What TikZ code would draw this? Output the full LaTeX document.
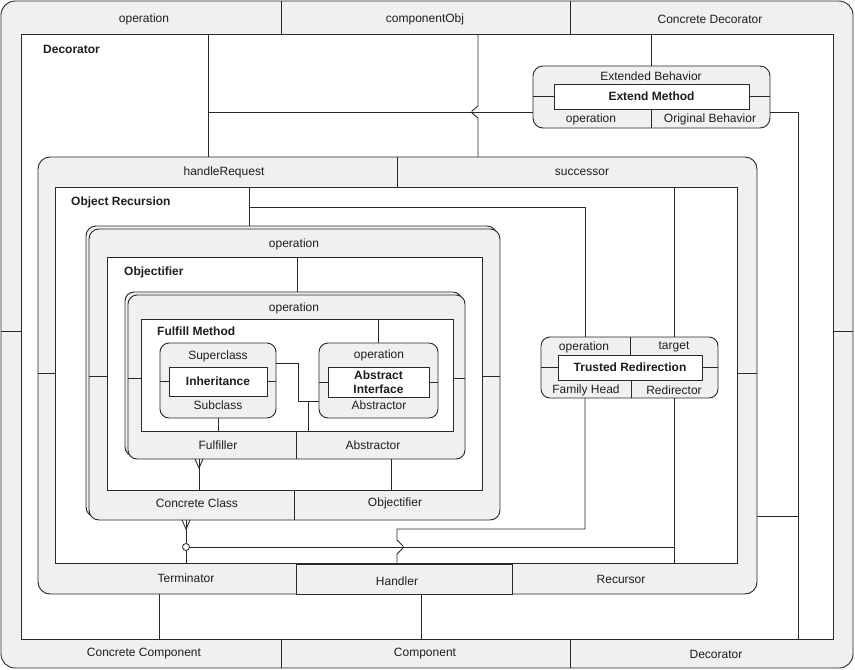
\documentclass[tikz,border=0pt]{standalone}
\usepackage{fontspec}
\setmainfont{Liberation Sans}
\usepackage{tikz}
\usetikzlibrary{positioning, fit, calc}

\definecolor{bandgray}{RGB}{240,240,241}
\definecolor{edgegray}{RGB}{40,40,40}
\definecolor{inkgray}{RGB}{30,30,30}

\begin{document}
\begin{tikzpicture}[x=1pt, y=-1pt,
    panel/.style={draw=edgegray, fill=bandgray, line width=0.9pt, rounded corners=#1, inner sep=0pt, outer sep=0pt},
    panel/.default=10pt,
    well/.style={draw=edgegray, fill=white, line width=0.9pt, inner sep=0pt, outer sep=0pt},
    wire/.style={draw=edgegray, line width=0.9pt},
    lbl/.style={font=\fontsize{12}{15}\selectfont, text=inkgray, inner sep=0pt},
    ttl/.style={font=\fontsize{12}{15}\selectfont\bfseries, text=inkgray, inner sep=0pt, anchor=west},
    core/.style={font=\fontsize{12}{15}\selectfont\bfseries, text=inkgray, inner sep=0pt, align=center},
    ring/.style={circle, draw=edgegray, fill=white, line width=0.8pt, minimum size=7pt, inner sep=0pt}]
  \useasboundingbox (0,0) rectangle (855,670);

  % Decorator frame
  \node[panel=14pt, fit={(1,1) (853,668)}] (dec) {};
  \node[well, fit={(21,34) (833,639)}] (decw) {};
  \foreach \x in {281,570} {
    \draw[wire] (dec.north -| \x,0) -- (decw.north -| \x,0);
    \draw[wire] (decw.south -| \x,0) -- (dec.south -| \x,0);
  }
  \draw[wire] (dec.west |- 0,331) -- (decw.west |- 0,331);
  \draw[wire] (decw.east |- 0,331) -- (dec.east |- 0,331);
  \node[lbl] (decOp) at (144,19) {operation};
  \node[lbl] (decObj) at (425,19) {componentObj};
  \node[lbl] (decConc) at (710,19) {Concrete Decorator};
  \node[lbl] (decCComp) at (144,654) {Concrete Component};
  \node[lbl] (decComp) at (425,654) {Component};
  \node[lbl] (decDec) at (716,654) {Decorator};
  \node[ttl] (decTtl) at (43,49) {Decorator};

  % Extended Behavior
  \node[panel=10pt, fit={(533,66) (770,128)}] (ext) {};
  \node[well, fit={(554,84) (749,109)}] (extIn) {};
  \node[core] (extName) at (extIn) {Extend Method};
  \node[lbl] (extTop) at (651,76) {Extended Behavior};
  \node[lbl] (extOp) at (591,119) {operation};
  \node[lbl] (extOrig) at (710,119) {Original Behavior};
  \draw[wire] (extIn.south -| 651,0) -- (ext.south -| 651,0);
  \draw[wire] (ext.west |- extIn) -- (extIn.west);
  \draw[wire] (extIn.east) -- (ext.east |- extIn);

  % handleRequest / Object Recursion
  \node[panel=12pt, fit={(38,157) (757,594)}] (hr) {};
  \node[well, fit={(55,187) (737,563)}] (hrw) {};
  \node[panel=0pt, fit={(296,564) (512,594)}] (handler) {};
  \draw[wire] (hr.north -| 397,0) -- (hrw.north -| 397,0);
  \draw[wire] (hr.west |- 0,373) -- (hrw.west |- 0,373);
  \draw[wire] (hrw.east |- 0,373) -- (hr.east |- 0,373);
  \node[lbl] (hrReq) at (224,172) {handleRequest};
  \node[lbl] (hrSucc) at (582,172) {successor};
  \node[lbl] (hrTerm) at (186,578) {Terminator};
  \node[lbl] (hrHand) at (397,581) {Handler};
  \node[lbl] (hrRec) at (621,579) {Recursor};
  \node[ttl] (hrTtl) at (71,202) {Object Recursion};

  % Objectifier
  \node[panel=10pt, fit={(86,226) (497,517)}] (objBack) {};
  \node[panel=10pt, fit={(89,229) (500,520)}] (obj) {};
  \node[well, fit={(107,257) (482,490)}] (objw) {};
  \draw[wire] (objw.south -| 294,0) -- (obj.south -| 294,0);
  \draw[wire] (obj.west |- 0,376) -- (objw.west |- 0,376);
  \draw[wire] (objw.east |- 0,376) -- (obj.east |- 0,376);
  \node[lbl] (objOp) at (294,244) {operation};
  \node[lbl] (objConc) at (197,503) {Concrete Class};
  \node[lbl] (objObj) at (395,503) {Objectifier};
  \node[ttl] (objTtl) at (124,272) {Objectifier};

  % Fulfill Method
  \node[panel=9pt, fit={(125,292) (462,456)}] (fulBack) {};
  \node[panel=9pt, fit={(128,295) (465,459)}] (ful) {};
  \node[well, fit={(141,319) (453,431)}] (fulw) {};
  \draw[wire] (fulw.south -| 296,0) -- (ful.south -| 296,0);
  \draw[wire] (ful.west |- 0,378) -- (fulw.west |- 0,378);
  \draw[wire] (fulw.east |- 0,378) -- (ful.east |- 0,378);
  \node[lbl] (fulOp) at (294,308) {operation};
  \node[lbl] (fulFul) at (218,445) {Fulfiller};
  \node[lbl] (fulAbs) at (373,445) {Abstractor};
  \node[ttl] (fulTtl) at (157,331) {Fulfill Method};

  % Inheritance
  \node[panel=9pt, fit={(160,343) (276,418)}] (inh) {};
  \node[well, fit={(169,367) (267,396)}] (inhIn) {};
  \node[core] (inhName) at (inhIn) {Inheritance};
  \node[lbl] (inhSup) at (218,356) {Superclass};
  \node[lbl] (inhSub) at (218,405) {Subclass};
  \draw[wire] (inh.west |- inhIn) -- (inhIn.west);
  \draw[wire] (inhIn.east) -- (inh.east |- inhIn);

  % Abstract Interface
  \node[panel=9pt, fit={(319,343) (438,418)}] (abi) {};
  \node[well, fit={(328,367) (429,397)}] (abiIn) {};
  \node[core, font=\fontsize{12}{14.5}\selectfont\bfseries] (abiName) at (abiIn) {Abstract\\Interface};
  \node[lbl] (abiOp) at (379,355) {operation};
  \node[lbl] (abiAbs) at (379,405) {Abstractor};
  \draw[wire] (abi.west |- abiIn) -- (abiIn.west);
  \draw[wire] (abiIn.east) -- (abi.east |- abiIn);

  % Trusted Redirection
  \node[panel=9pt, fit={(541,337) (718,398)}] (trd) {};
  \node[well, fit={(558,355) (702,380)}] (trdIn) {};
  \node[core] (trdName) at (trdIn) {Trusted Redirection};
  \node[lbl] (trdOp) at (584,347) {operation};
  \node[lbl] (trdTgt) at (674,347) {target};
  \node[lbl] (trdHead) at (586,390) {Family Head};
  \node[lbl] (trdRed) at (674,390) {Redirector};
  \draw[wire] (trd.north -| 630,0) -- (trdIn.north -| 630,0);
  \draw[wire] (trdIn.south -| 631,0) -- (trd.south -| 631,0);
  \draw[wire] (trd.west |- trdIn) -- (trdIn.west);
  \draw[wire] (trdIn.east) -- (trd.east |- trdIn);

  % connectors
  \coordinate (tapL) at (208,112);
  \coordinate (tapOR) at (249,207);
  \coordinate (tapAI) at (308,401);
  \draw[wire] (decw.north -| tapL) -- (hr.north -| tapL);
  \draw[wire] (tapL) -- (ext.west |- tapL);
  \draw[wire] (decw.north -| 478,0) -- (478,106) -- (472,111) -- (472,113) -- (478,118) -- (hr.north -| 478,0);
  \draw[wire] (decw.north -| ext.north) -- (ext.north);
  \draw[wire] (ext.east |- tapL) -- (798,112) -- (decw.south -| 798,0);
  \draw[wire] (hr.east |- 0,516) -- (798,516);
  \draw[wire] (hrw.north -| tapOR) -- (objBack.north -| tapOR);
  \draw[wire] (tapOR) -- (585,207) -- (trd.north -| 585,0);
  \draw[wire] (trd.south -| 585,0) -- (585,529) -- (397,529) -- (397,540) -- (403,546) -- (403,548) -- (397,554) -- (handler.north -| 397,0);
  \draw[wire] (hrw.north -| trdTgt) -- (trd.north -| trdTgt);
  \draw[wire] (trd.south -| trdRed) -- (hrw.south -| trdRed);
  \node[ring] (ring) at (186,547) {};
  \draw[wire] (obj.south -| ring) -- (ring) -- (hrw.south -| ring);
  \draw[wire] (ring) -- (ring -| trdRed);
  \draw[wire] ([xshift=-4pt]obj.south -| ring) -- ++(4,9) -- ++(4,-9);
  \draw[wire] (ful.south -| 199,0) -- (objw.south -| 199,0);
  \draw[wire] ([xshift=-4pt]ful.south -| 199,0) -- ++(4,9) -- ++(4,-9);
  \draw[wire] (objw.north -| 297,0) -- (fulBack.north -| 297,0);
  \draw[wire] (fulw.north -| abi.north) -- (abi.north);
  \draw[wire] (inh.east |- 0,363) -- (298,363) -- (298,401) -- (abi.west |- tapAI);
  \draw[wire] (tapAI) -- (fulw.south -| tapAI);
  \draw[wire] (inh.south) -- (inh.south |- fulw.south);
  \draw[wire] (ful.south -| 391,0) -- (objw.south -| 391,0);
  \draw[wire] (hr.south -| 159,0) -- (decw.south -| 159,0);
  \draw[wire] (hr.south -| 421,0) -- (decw.south -| 421,0);
\end{tikzpicture}
\end{document}
